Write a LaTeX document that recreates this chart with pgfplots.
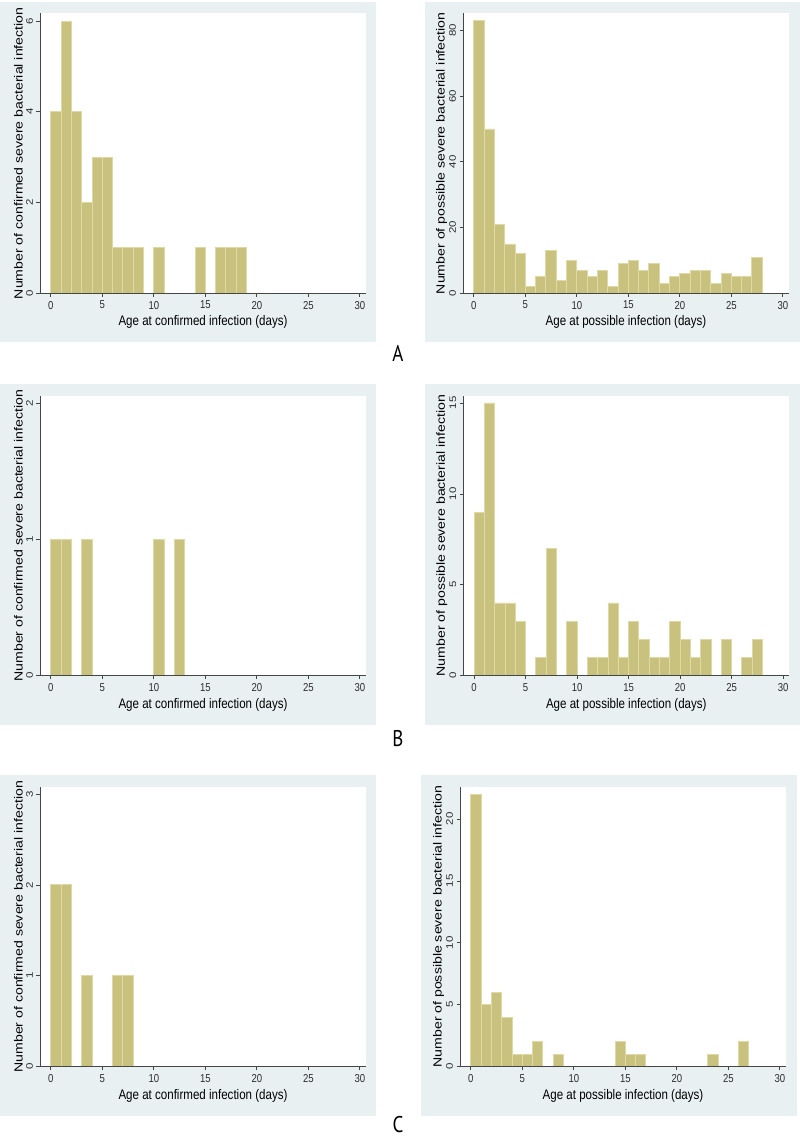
\documentclass[border=0pt]{standalone}
\usepackage{fontspec}
\setmainfont{Liberation Sans}
\newfontfamily\rowfont{PT Sans}
\usepackage{pgfplots}
\pgfplotsset{compat=1.18}

\definecolor{bgblue}{RGB}{232,240,242}
\definecolor{barfill}{RGB}{201,194,126}
\definecolor{baredge}{RGB}{222,217,165}
\definecolor{axisgray}{RGB}{70,70,70}
\definecolor{labelgray}{RGB}{45,45,45}

\pgfplotsset{
  panel/.style={
    scale only axis, width=326bp, height=280bp,
    anchor=south west,
    xmin=-1.05, xmax=30.6, ymin=0,
    axis lines*=left,
    axis line style={draw=axisgray, line width=0.8bp, -},
    axis background/.style={fill=white},
    axis on top,
    tick align=outside, major tick length=3.5bp,
    tick style={draw=axisgray, line width=0.7bp},
    xtick={0,5,...,30},
    /pgf/number format/assume math mode=true,
    ticklabel style={font=\fontsize{9.6}{10}\selectfont, text=labelgray},
    xticklabel style={yscale=1.2},
    yticklabel style={rotate=90, anchor=south, xscale=1.2},
    xlabel style={at={(axis description cs:0.5,-0.1036)}, anchor=center,
      font=\fontsize{11.6}{12}\selectfont, yscale=1.2},
    ylabel style={at={(axis description cs:-0.066,0.5)}, anchor=center,
      font=\fontsize{11.8}{12}\selectfont, xscale=1.2},
  },
  bars/.style={ybar, bar width=1, fill=barfill, draw=baredge, line width=0.9bp},
}

\begin{document}
\begin{tikzpicture}
\useasboundingbox (0bp,0bp) rectangle (800bp,1139bp);
% grey-blue panel backgrounds
\fill[bgblue] (0bp,797bp) rectangle (376bp,1137bp);
\fill[bgblue] (425bp,797bp) rectangle (800bp,1137bp);
\fill[bgblue] (0bp,414bp) rectangle (376bp,755bp);
\fill[bgblue] (425bp,414bp) rectangle (800bp,755bp);
\fill[bgblue] (0bp,23bp) rectangle (376bp,364bp);
\fill[bgblue] (421bp,23bp) rectangle (797bp,364bp);

% ---- A ----
\begin{axis}[panel, at={(40bp,845.7bp)}, ymax=6.17, ytick={0,2,4,6},
  xlabel={Age at confirmed infection (days)},
  ylabel={Number of confirmed severe bacterial infection}]
\addplot[bars] coordinates {
  (0.5,4) (1.5,6) (2.5,4) (3.5,2) (4.5,3) (5.5,3) (6.5,1) (7.5,1) (8.5,1)
  (10.5,1) (14.5,1) (16.5,1) (17.5,1) (18.5,1)
};
\end{axis}
\begin{axis}[panel, at={(463bp,845.7bp)}, ymax=85.2, ytick={0,20,40,60,80},
  xlabel={Age at possible infection (days)},
  ylabel={Number of possible severe bacterial infection}]
\addplot[bars] coordinates {
  (0.5,83) (1.5,50) (2.5,21) (3.5,15) (4.5,12) (5.5,2) (6.5,5) (7.5,13)
  (8.5,4) (9.5,10) (10.5,7) (11.5,5) (12.5,7) (13.5,2) (14.5,9) (15.5,10)
  (16.5,7) (17.5,9) (18.5,3) (19.5,5) (20.5,6) (21.5,7) (22.5,7) (23.5,3)
  (24.5,6) (25.5,5) (26.5,5) (27.5,11)
};
\end{axis}

% ---- B ----
\begin{axis}[panel, at={(40bp,463.3bp)}, ymax=2.054, ytick={0,1,2},
  xlabel={Age at confirmed infection (days)},
  ylabel={Number of confirmed severe bacterial infection}]
\addplot[bars] coordinates {
  (0.5,1) (1.5,1) (3.5,1) (10.5,1) (12.5,1)
};
\end{axis}
\begin{axis}[panel, at={(463.3bp,463.3bp)}, ymax=15.4, ytick={0,5,10,15},
  xlabel={Age at possible infection (days)},
  ylabel={Number of possible severe bacterial infection}]
\addplot[bars] coordinates {
  (0.5,9) (1.5,15) (2.5,4) (3.5,4) (4.5,3) (6.5,1) (7.5,7) (9.5,3)
  (11.5,1) (12.5,1) (13.5,4) (14.5,1) (15.5,3) (16.5,2) (17.5,1) (18.5,1)
  (19.5,3) (20.5,2) (21.5,1) (22.5,2) (24.5,2) (26.5,1) (27.5,2)
};
\end{axis}

% ---- C ----
\begin{axis}[panel, at={(40bp,72.3bp)}, ymax=3.08, ytick={0,1,2,3},
  xlabel={Age at confirmed infection (days)},
  ylabel={Number of confirmed severe bacterial infection}]
\addplot[bars] coordinates {
  (0.5,2) (1.5,2) (3.5,1) (6.5,1) (7.5,1)
};
\end{axis}
\begin{axis}[panel, at={(460bp,72.3bp)}, ymax=22.6, ytick={0,5,10,15,20},
  xlabel={Age at possible infection (days)},
  ylabel={Number of possible severe bacterial infection}]
\addplot[bars] coordinates {
  (0.5,22) (1.5,5) (2.5,6) (3.5,4) (4.5,1) (5.5,1) (6.5,2) (8.5,1)
  (14.5,2) (15.5,1) (16.5,1) (23.5,1) (26.5,2)
};
\end{axis}

% row labels
\node[font=\rowfont\fontsize{19}{20}\selectfont, yscale=1.2] at (398bp,786bp) {A};
\node[font=\rowfont\fontsize{19}{20}\selectfont, yscale=1.2] at (398bp,400bp) {B};
\node[font=\rowfont\fontsize{19}{20}\selectfont, yscale=1.2] at (398bp,14bp) {C};
\end{tikzpicture}
\end{document}
